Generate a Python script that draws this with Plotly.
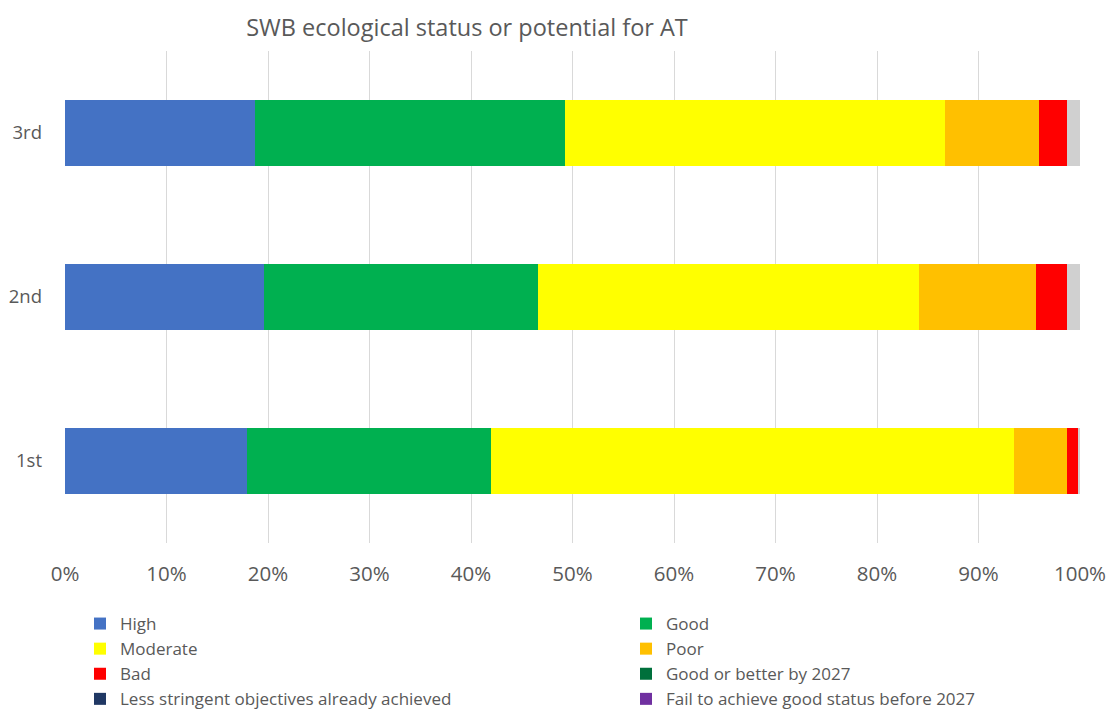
import plotly.graph_objects as go

# Cycles (bottom to top) and share of surface water bodies per class, in %
cycles = ["1st", "2nd", "3rd"]
high = [17.9, 19.6, 18.75]
good = [24.1, 27.0, 30.55]
moderate = [51.5, 37.5, 37.4]
poor = [5.25, 11.6, 9.3]
bad = [1.05, 3.0, 2.7]
good_by_2027 = [0, 0, 0]
less_stringent = [0, 0, 0]
fail_2027 = [0, 0, 0]
unknown = [0.2, 1.3, 1.3]

x_ticks = list(range(0, 101, 10))
x_tick_labels = [f"{v}%" for v in x_ticks]

# name, values, colour, legend column (None = not listed)
series = [
    ("High", high, "#4472C4", "legend"),
    ("Good", good, "#00B050", "legend2"),
    ("Moderate", moderate, "#FFFF00", "legend"),
    ("Poor", poor, "#FFC000", "legend2"),
    ("Bad", bad, "#FF0000", "legend"),
    ("Good or better by 2027", good_by_2027, "#00703C", "legend2"),
    ("Less stringent objectives already achieved", less_stringent, "#203864", "legend"),
    ("Fail to achieve good status before 2027", fail_2027, "#7030A0", "legend2"),
    ("Unknown", unknown, "#D0D0D0", None),
]

FONT = "Open Sans"
GREY_TXT = "#595959"

# plot area in pixels
L, R, T, B = 65, 30, 51, 171
W, H = 1110, 714
PW = W - L - R
PH = H - T - B

fig = go.Figure()
for name, vals, color, leg in series:
    fig.add_trace(go.Bar(
        y=cycles, x=vals, name=name, orientation="h",
        marker=dict(color=color, line=dict(width=0)),
        showlegend=leg is not None,
        legend=leg if leg else "legend",
    ))

legend_common = dict(
    orientation="v",
    yanchor="top",
    y=-(606 - (H - B)) / PH,
    xanchor="left",
    traceorder="normal",
    font=dict(family=FONT, size=17, color=GREY_TXT),
    itemclick=False, itemdoubleclick=False,
    bgcolor="rgba(0,0,0,0)",
)

fig.update_layout(
    barmode="stack",
    bargap=0.6,
    width=W, height=H,
    margin=dict(l=L, r=R, t=T, b=B, autoexpand=False),
    paper_bgcolor="white",
    plot_bgcolor="white",
    font=dict(family=FONT, color=GREY_TXT, size=20),
    title=dict(
        text="SWB ecological status or potential for AT",
        x=467 / W, xanchor="center", xref="container",
        y=1 - 28 / H, yanchor="middle",
        font=dict(family=FONT, size=23.5, color=GREY_TXT),
    ),
    xaxis=dict(
        range=[0, 100], tickvals=x_ticks, ticktext=x_tick_labels,
        showgrid=True, gridcolor="#D9D9D9", gridwidth=1,
        zeroline=False, showline=False, ticks="",
        tickfont=dict(family=FONT, size=20.5, color=GREY_TXT),
        ticklabelstandoff=16,
        fixedrange=True,
    ),
    yaxis=dict(
        showgrid=False, zeroline=False, ticks="", showline=False,
        ticklabelstandoff=22,
        tickfont=dict(family=FONT, size=18.5, color=GREY_TXT),
        range=[-0.5, 2.5],
        fixedrange=True,
    ),
    legend=dict(legend_common, x=(80 - L) / PW),
    legend2=dict(legend_common, x=(626 - L) / PW),
)

fig.write_html("out.html")
